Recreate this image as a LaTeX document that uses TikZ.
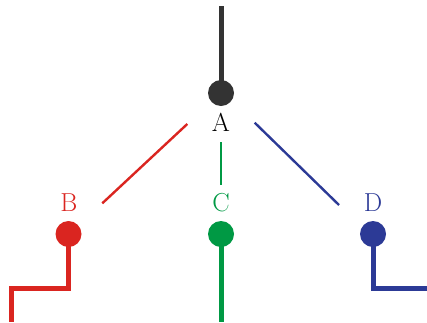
\documentclass[tikz,border=0pt]{standalone}
\usepackage{fontspec}
\definecolor{cA}{RGB}{51,51,51}
\definecolor{cB}{RGB}{218,37,32}
\definecolor{cC}{RGB}{0,153,68}
\definecolor{cD}{RGB}{44,58,150}
\tikzset{
  dot/.style={circle,fill=#1,inner sep=0pt,minimum size=26pt},
  lab/.style={text=#1,inner sep=0pt,font=\fontsize{26}{26}\selectfont},
  thick line/.style={draw=#1,line width=5pt},
  thin line/.style={draw=#1,line width=2.4pt},
}
\begin{document}
\begin{tikzpicture}[x=1pt,y=-1pt]
\useasboundingbox (0,0) rectangle (427,322);
% coordinates
\coordinate (top) at (221,6);
\coordinate (bB) at (11.5,288.5);
\coordinate (eB) at (11.5,322);
\coordinate (eC) at (221,322);
\coordinate (bD) at (427,288.5);
\coordinate (rA) at (187.3,124);
\coordinate (rB) at (102.3,203.3);
\coordinate (gA) at (221,142.3);
\coordinate (gC) at (221,185);
\coordinate (uA) at (254.7,122.7);
\coordinate (uD) at (339,205);
\coordinate (pA) at (221,93);
\coordinate (pB) at (68.5,234);
\coordinate (pC) at (221,234);
\coordinate (pD) at (373,234);
% thick lines
\draw[thick line=cA] (top) -- (pA);
\draw[thick line=cB] (pB) |- (bB) -- (eB);
\draw[thick line=cC] (pC) -- (eC);
\draw[thick line=cD] (pD) |- (bD);
% dots
\node[dot=cA] (dA) at (pA) {};
\node[dot=cB] (dB) at (pB) {};
\node[dot=cC] (dC) at (pC) {};
\node[dot=cD] (dD) at (pD) {};
% labels
\node[lab=black] (lA) at (221,122) {A};
\node[lab=cB] (lB) at (69,202.5) {B};
\node[lab=cC] (lC) at (221,202.5) {C};
\node[lab=cD] (lD) at (373,202.5) {D};
% thin lines
\draw[thin line=cB] (rA) -- (rB);
\draw[thin line=cC] (gA) -- (gC);
\draw[thin line=cD] (uA) -- (uD);
\end{tikzpicture}
\end{document}
